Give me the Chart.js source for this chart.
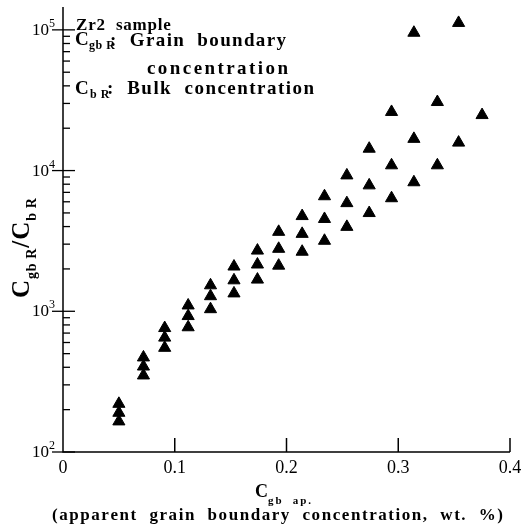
<!DOCTYPE html>
<html>
<head>
<meta charset="utf-8">
<script src="https://cdn.jsdelivr.net/npm/chart.js@4/dist/chart.umd.min.js"></script>
<style>
  html, body { margin: 0; padding: 0; background: #fff; }
  canvas { display: block; }
</style>
</head>
<body>
<canvas id="chart" width="528" height="524"></canvas>
<script>
// Apparent grain boundary concentration (wt. %) of each measurement group
const cgbApparent = [0.050, 0.072, 0.091, 0.112, 0.132, 0.153, 0.174, 0.193, 0.214,
                     0.234, 0.254, 0.274, 0.294, 0.314, 0.335, 0.354, 0.375];

// C_gbR / C_bR ratios measured at each concentration above
const ratioGroups = [
  [220, 190, 165],
  [470, 405, 350],
  [760, 650, 550],
  [1100, 925, 770],
  [1530, 1280, 1035],
  [2080, 1660, 1340],
  [2700, 2150, 1680],
  [3670, 2780, 2110],
  [4750, 3550, 2650],
  [6570, 4530, 3170],
  [9240, 5870, 3980],
  [14300, 7850, 4990],
  [26100, 10900, 6360],
  [95400, 16800, 8260],
  [30700, 10900],
  [112000, 15800],
  [24800]
];

// Axis ticks
const xTickValues = [0, 0.1, 0.2, 0.3, 0.4];
const xTickLabels = ['0', '0.1', '0.2', '0.3', '0.4'];
const yDecadeExponents = [2, 3, 4, 5];

const points = [];
cgbApparent.forEach((c, i) => ratioGroups[i].forEach(r => points.push({ x: c, y: r })));

const SERIF = '"Liberation Serif", "Times New Roman", Times, serif';

function charsWidth(ctx, text) {
  let w = 0;
  for (const ch of text) w += ctx.measureText(ch).width;
  return w;
}
function drawSpaced(ctx, text, x, y, sp) {
  for (const ch of text) {
    ctx.fillText(ch, x, y);
    x += ctx.measureText(ch).width + sp;
  }
  return x - sp;
}
// spread a string evenly between two x positions
function drawFitted(ctx, text, x0, x1, y) {
  const n = [...text].length;
  const sp = (x1 - x0 - charsWidth(ctx, text)) / (n - 1);
  return drawSpaced(ctx, text, x0, y, sp);
}

const framePlugin = {
  id: 'frame',
  afterDraw(chart) {
    const ctx = chart.ctx;
    const xs = chart.scales.x, ys = chart.scales.y;
    const left = xs.getPixelForValue(0);
    const bottom = ys.getPixelForValue(100);
    const top = chart.chartArea.top - 1;
    ctx.save();
    ctx.strokeStyle = '#000';
    ctx.fillStyle = '#000';
    ctx.lineWidth = 1.5;

    // axis lines
    ctx.beginPath();
    ctx.moveTo(left, top);
    ctx.lineTo(left, bottom);
    ctx.lineTo(xs.getPixelForValue(0.4), bottom);
    ctx.stroke();

    // x ticks (pointing inward) and labels
    ctx.font = `18px ${SERIF}`;
    ctx.textAlign = 'center';
    xTickValues.forEach((v, i) => {
      const px = xs.getPixelForValue(v);
      if (v > 0) {
        ctx.beginPath();
        ctx.moveTo(px, bottom);
        ctx.lineTo(px, bottom - 14);
        ctx.stroke();
      }
      ctx.fillText(xTickLabels[i], px, bottom + 21);
    });

    // y ticks: major decades crossing the axis, minor ones inside
    ctx.lineWidth = 1.3;
    yDecadeExponents.forEach(e => {
      const py = ys.getPixelForValue(Math.pow(10, e));
      ctx.beginPath();
      ctx.moveTo(left - 11, py);
      ctx.lineTo(left + 12, py);
      ctx.stroke();
      ctx.textAlign = 'right';
      ctx.font = `17px ${SERIF}`;
      ctx.fillText('10', left - 14, py + 5);
      ctx.textAlign = 'left';
      ctx.font = `12px ${SERIF}`;
      ctx.fillText(String(e), left - 14, py - 3);
      if (e < 5) {
        for (let m = 2; m <= 9; m++) {
          const pm = ys.getPixelForValue(m * Math.pow(10, e));
          ctx.beginPath();
          ctx.moveTo(left, pm);
          ctx.lineTo(left + 7, pm);
          ctx.stroke();
        }
      }
    });

    ctx.textAlign = 'left';

    // y axis title: C_gbR / C_bR, rotated
    ctx.save();
    ctx.translate(29, 298);
    ctx.rotate(-Math.PI / 2);
    let tx = 0;
    ctx.font = `bold 25px ${SERIF}`;
    ctx.fillText('C', tx, 0); tx += ctx.measureText('C').width + 1;
    ctx.font = `bold 14px ${SERIF}`;
    tx = drawSpaced(ctx, 'gb R', tx, 7, 0.6) + 1;
    ctx.font = `bold 25px ${SERIF}`;
    ctx.fillText('/', tx, 0); tx += ctx.measureText('/').width + 1;
    ctx.fillText('C', tx, 0); tx += ctx.measureText('C').width + 1;
    ctx.font = `bold 14px ${SERIF}`;
    drawSpaced(ctx, 'b R', tx, 7, 0.6);
    ctx.restore();

    // x axis title
    ctx.font = `bold 18px ${SERIF}`;
    ctx.fillText('C', 255, 497);
    ctx.font = `bold 11px ${SERIF}`;
    drawFitted(ctx, 'gb  ap.', 268, 311, 504);
    ctx.font = `bold 17px ${SERIF}`;
    drawFitted(ctx, '(apparent  grain  boundary  concentration,  wt.  %)', 52, 503, 520);

    // sample note
    ctx.font = `bold 17px ${SERIF}`;
    drawSpaced(ctx, 'Zr2  sample', 76, 30, 0.8);
    ctx.font = `bold 19px ${SERIF}`;
    ctx.fillText('C', 75, 45);
    ctx.font = `bold 12px ${SERIF}`;
    drawSpaced(ctx, 'gb R', 89, 49, 0.5);
    ctx.font = `bold 19px ${SERIF}`;
    drawFitted(ctx, ':  Grain  boundary', 110, 286, 46);
    drawFitted(ctx, 'concentration', 147, 288, 74);
    ctx.font = `bold 19px ${SERIF}`;
    ctx.fillText('C', 75, 94);
    ctx.font = `bold 12px ${SERIF}`;
    drawSpaced(ctx, 'b R', 90, 98, 0.5);
    ctx.font = `bold 19px ${SERIF}`;
    drawFitted(ctx, ':  Bulk  concentration', 107, 314, 94);

    ctx.restore();
  }
};

new Chart(document.getElementById('chart'), {
  type: 'scatter',
  data: {
    datasets: [{
      data: points,
      pointStyle: 'triangle',
      pointRadius: 7,
      pointHoverRadius: 7,
      backgroundColor: '#000',
      borderColor: '#000',
      borderWidth: 1
    }]
  },
  options: {
    responsive: false,
    animation: false,
    devicePixelRatio: 1,
    layout: { padding: { left: 63, right: 18, top: 4, bottom: 72 } },
    plugins: { legend: { display: false }, tooltip: { enabled: false } },
    scales: {
      x: { type: 'linear', min: 0, max: 0.4, display: false },
      y: { type: 'logarithmic', min: 100, max: 143000, display: false }
    }
  },
  plugins: [framePlugin]
});
</script>
</body>
</html>
